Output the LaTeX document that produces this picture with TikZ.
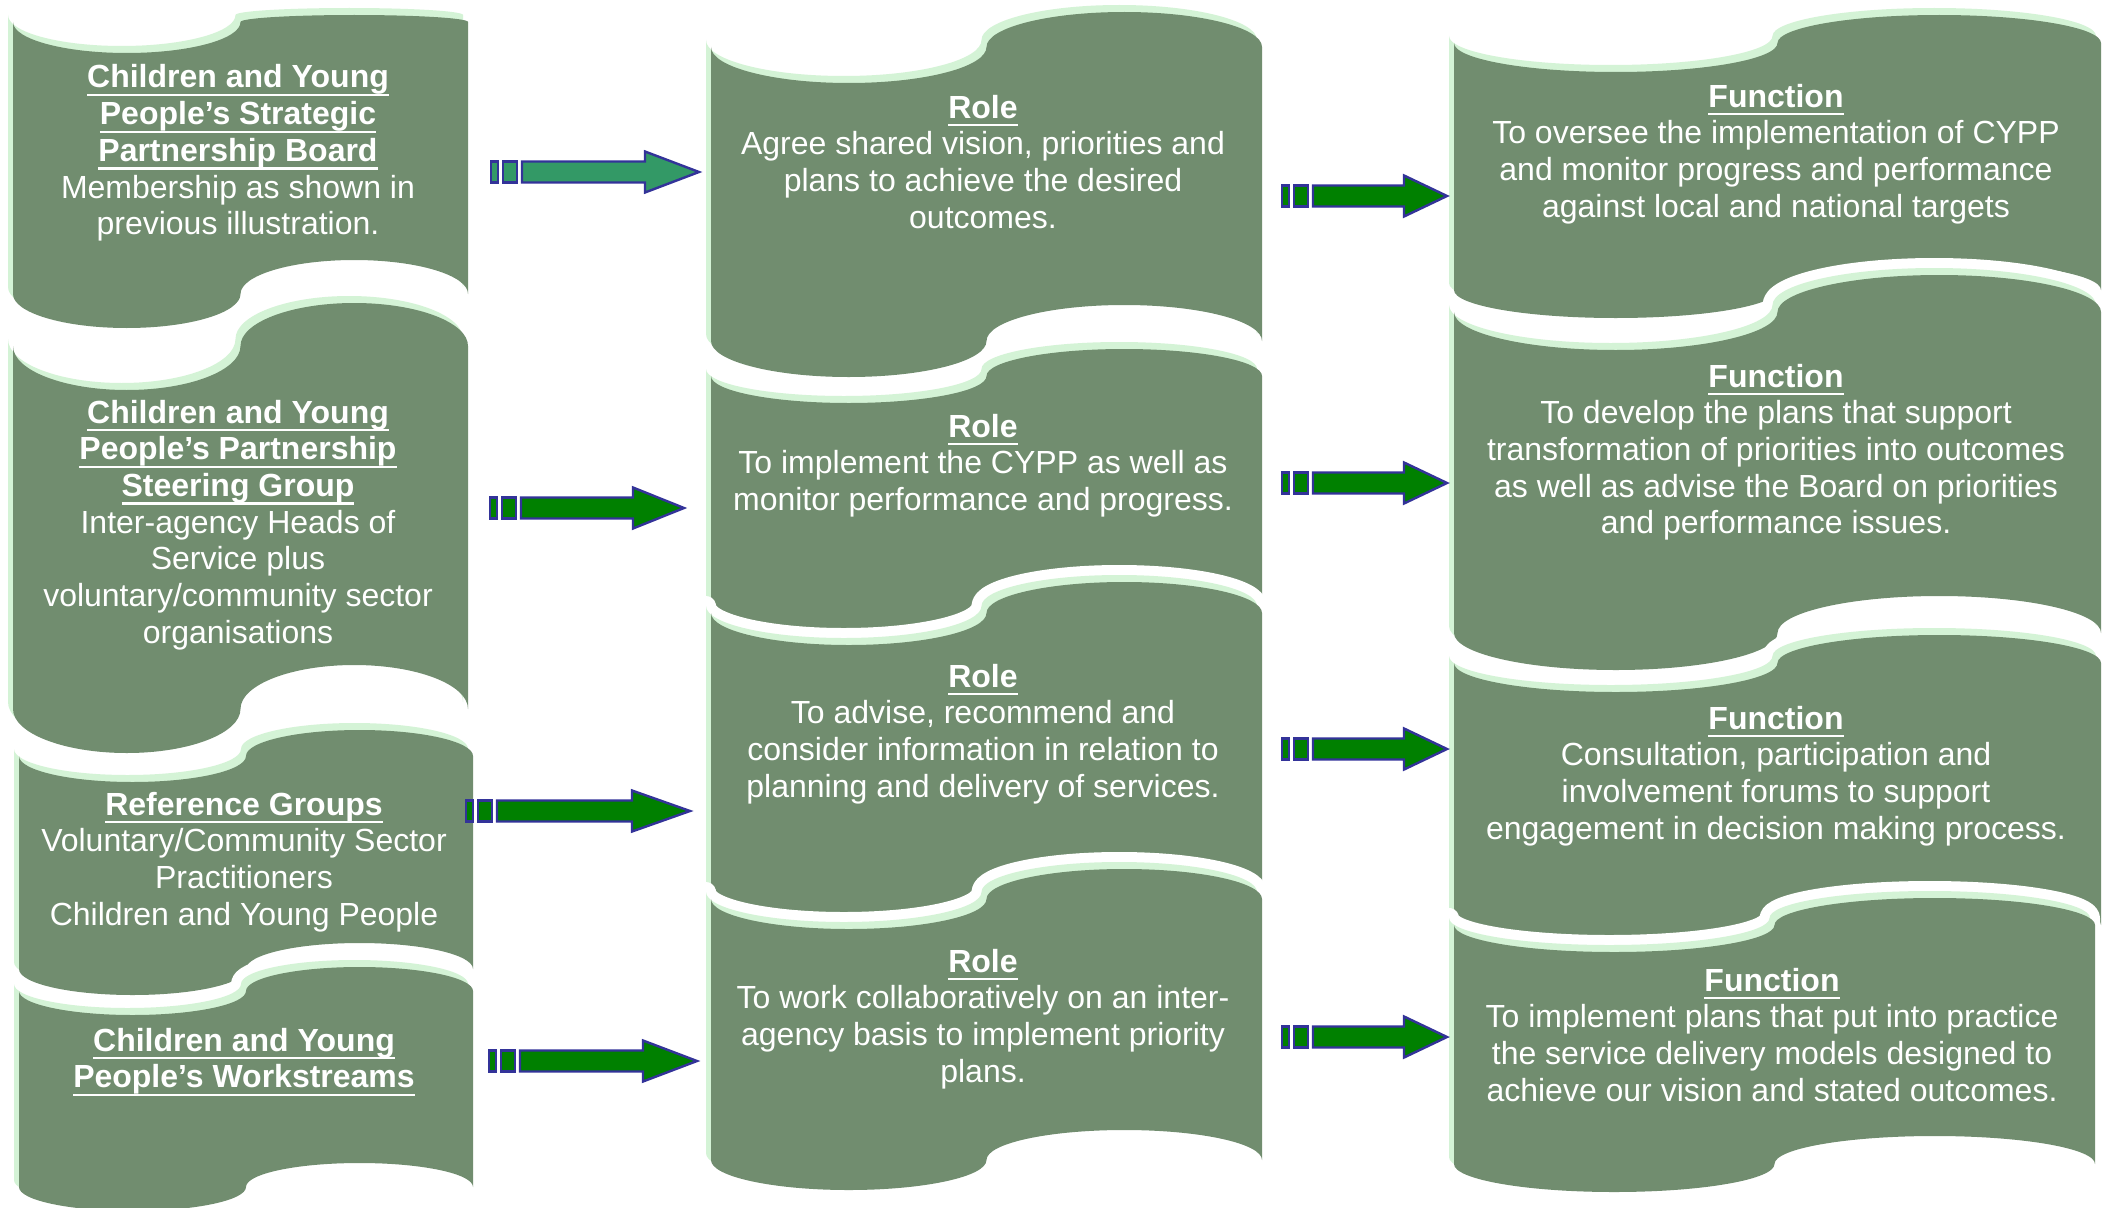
\documentclass[tikz,border=0pt]{standalone}
\usepackage{fontspec}
\setmainfont{Liberation Sans}

\definecolor{boxgreen}{RGB}{113,141,111}
\definecolor{edgegreen}{RGB}{212,243,214}
\definecolor{arrowteal}{RGB}{51,153,102}
\definecolor{arrowgreen}{RGB}{0,128,0}
\definecolor{arrowedge}{RGB}{51,51,153}

% bold underlined heading line
\newcommand\ulhead[1]{\setbox0\hbox{\bfseries #1}\rlap{\rule[-8.4pt]{\wd0}{2.4pt}}\box0}
% centred lines; the box baseline is the first line's baseline
\newcommand\txtlines[1]{\vtop{\baselineskip=36.7pt\lineskiplimit=-200pt\lineskip=0pt
  \halign{\hfil##\hfil\cr#1\crcr}}}

% punched-tape box: left x, right x, top mid y, top trough depth, top peak height,
% bottom mid y, bottom trough depth, bottom peak height
\newcommand\tapebox[8]{%
  \pgfmathsetmacro\tbq{(#2-#1)/4}%
  \pgfmathsetmacro\tbk{0.5523*\tbq}%
  \pgfmathsetmacro\tba{#1+\tbq}%
  \pgfmathsetmacro\tbm{#1+2*\tbq}%
  \pgfmathsetmacro\tbb{#1+3*\tbq}%
  \pgfmathsetmacro\tT{#3+#4}\pgfmathsetmacro\tTk{#3+0.5523*#4}%
  \pgfmathsetmacro\tP{#3-#5}\pgfmathsetmacro\tPk{#3-0.5523*#5}%
  \pgfmathsetmacro\bT{#6+#7}\pgfmathsetmacro\bTk{#6+0.5523*#7}%
  \pgfmathsetmacro\bP{#6-#8}\pgfmathsetmacro\bPk{#6-0.5523*#8}%
  \def\tapeshape{(#1,#3) .. controls (#1,\tTk) and (\tba-\tbk,\tT) .. (\tba,\tT)
    .. controls (\tba+\tbk,\tT) and (\tbm,\tTk) .. (\tbm,#3)
    .. controls (\tbm,\tPk) and (\tbb-\tbk,\tP) .. (\tbb,\tP)
    .. controls (\tbb+\tbk,\tP) and (#2,\tPk) .. (#2,#3)
    -- (#2,#6)
    .. controls (#2,\bPk) and (\tbb+\tbk,\bP) .. (\tbb,\bP)
    .. controls (\tbb-\tbk,\bP) and (\tbm,\bPk) .. (\tbm,#6)
    .. controls (\tbm,\bTk) and (\tba+\tbk,\bT) .. (\tba,\bT)
    .. controls (\tba-\tbk,\bT) and (#1,\bTk) .. (#1,#6) -- cycle}%
  \begin{scope}[shift={(-5,-7)}]
    \path[draw=white, fill=white, line width=20pt, line join=round] \tapeshape;
    \path[fill=edgegreen] \tapeshape;
  \end{scope}
  \path[fill=boxgreen] \tapeshape;
}

% striped block arrow: start x, centre y, head base x, tip x, fill
\newcommand\stripearrow[5]{%
  \path[arrowpart, fill=#5] (#1,#2-10.5) rectangle ++(7,21);
  \path[arrowpart, fill=#5] (#1+12,#2-10.5) rectangle ++(14,21);
  \path[arrowpart, fill=#5] (#1+31,#2-10.5) -- (#3,#2-10.5) -- (#3,#2-20.5)
    -- (#4,#2) -- (#3,#2+20.5) -- (#3,#2+10.5) -- (#1+31,#2+10.5) -- cycle;
}

\tikzset{
  arrowpart/.style={draw=arrowedge, line width=2.4pt, line join=miter},
  txt/.style={inner sep=0pt, anchor=base, text=white,
    font=\fontsize{32pt}{36.7pt}\selectfont}
}

\begin{document}
\begin{tikzpicture}[x=1pt,y=-1pt]
\useasboundingbox (0,0) rectangle (2111,1207);
\clip (0,0) rectangle (2111,1207);

% left column
\tapebox{13}{468}{22}{31}{7}{294}{34}{34}
\tapebox{13}{468}{346}{44}{43}{709}{44}{44}
\tapebox{19}{473}{756}{26}{26}{969}{26}{26}
\tapebox{19}{473}{991}{24}{24}{1187}{24}{24}

% middle column
\tapebox{711}{1262}{47}{36}{35}{341}{36}{36}
\tapebox{711}{1262}{376}{27}{27}{613}{32}{31}
\tapebox{711}{1262}{613}{32}{31}{899}{30}{30}
\tapebox{711}{1262}{899}{30}{30}{1160}{30}{30}

% right column
\tapebox{1454}{2101}{43}{29}{28}{290}{28}{28}
\tapebox{1454}{2101}{312}{38}{37}{633}{37}{37}
\tapebox{1454}{2101}{663}{29}{28}{925}{27}{27}
\tapebox{1454}{2095}{925}{27}{27}{1164}{28}{28}

% arrows
\stripearrow{491}{172}{645}{699}{arrowteal}
\stripearrow{490}{508}{633}{684}{arrowgreen}
\stripearrow{466}{811}{632}{690}{arrowgreen}
\stripearrow{489}{1061}{643}{697}{arrowgreen}
\stripearrow{1282}{196}{1404}{1447}{arrowgreen}
\stripearrow{1282}{483}{1404}{1447}{arrowgreen}
\stripearrow{1282}{749}{1404}{1447}{arrowgreen}
\stripearrow{1282}{1037}{1404}{1447}{arrowgreen}

% texts
\node[txt] (board) at (238,88) {\txtlines{\ulhead{Children and Young}\cr
  \ulhead{People’s Strategic}\cr \ulhead{Partnership Board}\cr
  Membership as shown in\cr previous illustration.}};
\node[txt] (steering) at (238,423) {\txtlines{\ulhead{Children and Young}\cr
  \ulhead{People’s Partnership}\cr \ulhead{Steering Group}\cr
  Inter-agency Heads of\cr Service plus\cr voluntary/community sector\cr organisations}};
\node[txt] (reference) at (244,815) {\txtlines{\ulhead{Reference Groups}\cr
  Voluntary/Community Sector\cr Practitioners\cr Children and Young People}};
\node[txt] (workstreams) at (244,1051) {\txtlines{\ulhead{Children and Young}\cr
  \ulhead{People’s Workstreams}}};

\node[txt] (role1) at (983,118) {\txtlines{\ulhead{Role}\cr
  Agree shared vision, priorities and\cr plans to achieve the desired\cr outcomes.}};
\node[txt] (role2) at (983,437) {\txtlines{\ulhead{Role}\cr
  To implement the CYPP as well as\cr monitor performance and progress.}};
\node[txt] (role3) at (983,687) {\txtlines{\ulhead{Role}\cr
  To advise, recommend and\cr consider information in relation to\cr
  planning and delivery of services.}};
\node[txt] (role4) at (983,972) {\txtlines{\ulhead{Role}\cr
  To work collaboratively on an inter-\cr agency basis to implement priority\cr plans.}};

\node[txt] (func1) at (1776,107) {\txtlines{\ulhead{Function}\cr
  To oversee the implementation of CYPP\cr and monitor progress and performance\cr
  against local and national targets}};
\node[txt] (func2) at (1776,387) {\txtlines{\ulhead{Function}\cr
  To develop the plans that support\cr transformation of priorities into outcomes\cr
  as well as advise the Board on priorities\cr and performance issues.}};
\node[txt] (func3) at (1776,729) {\txtlines{\ulhead{Function}\cr
  Consultation, participation and\cr involvement forums to support\cr
  engagement in decision making process.}};
\node[txt] (func4) at (1772,991) {\txtlines{\ulhead{Function}\cr
  To implement plans that put into practice\cr the service delivery models designed to\cr
  achieve our vision and stated outcomes.}};
\end{tikzpicture}
\end{document}
